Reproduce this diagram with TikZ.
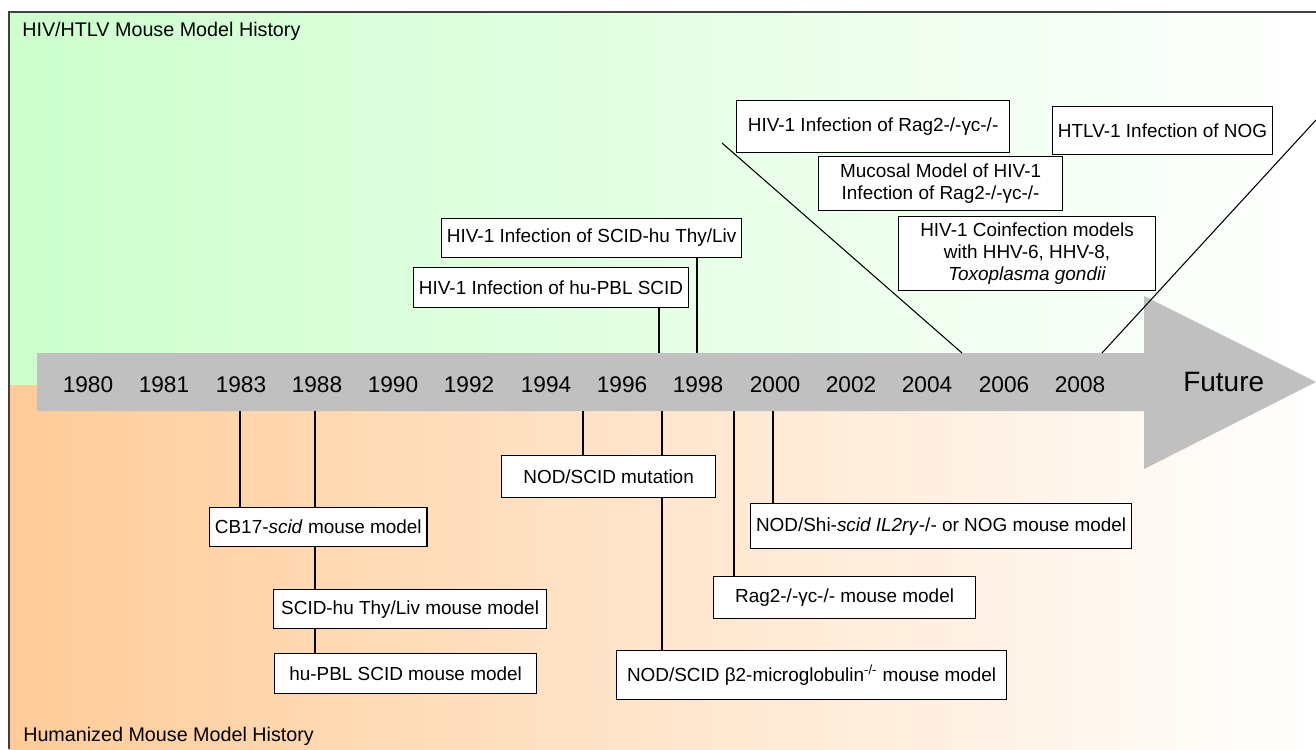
\documentclass[tikz,border=0pt]{standalone}
\usepackage{fontspec}
\setmainfont{Liberation Sans}
\definecolor{greenL}{RGB}{204,255,204}
\definecolor{orangeL}{RGB}{255,204,153}
\definecolor{arrowgray}{RGB}{192,192,192}
\definecolor{framegray}{RGB}{64,64,64}
\newcommand\boxfont{\fontsize{14.2}{16.5}\selectfont}
\newcommand\ttlfont{\fontsize{14.8}{17}\selectfont}
\newcommand\yearfont{\fontsize{17}{20}\selectfont}
\newcommand\futfont{\fontsize{21}{24}\selectfont}
\begin{document}
\begin{tikzpicture}[x=0.75pt,y=-0.75pt,
  bx/.style={draw=black, fill=white, line width=0.9pt, inner xsep=4pt, inner ysep=0pt,
             align=center, font=\boxfont, anchor=north west},
  conn/.style={draw=black, line width=0.8pt},
  yr/.style={font=\yearfont, anchor=base, inner sep=0pt},
  ttl/.style={font=\ttlfont, anchor=base west, inner sep=0pt}]
\useasboundingbox (0,0) rectangle (1316,749);
% backgrounds
\shade[left color=greenL, right color=white] (9,12) rectangle (1316,385);
\shade[left color=orangeL, right color=white] (9,385) rectangle (1316,749);
\draw[framegray, line width=1.2pt] (9,749) -- (9,12) -- (1316,12);
% titles
\node[ttl] (toptitle) at (22,36.5) {HIV/HTLV Mouse Model History};
\node[ttl] (bottitle) at (23,741) {Humanized Mouse Model History};
% timeline arrow
\fill[arrowgray] (37,353) -- (1144,353) -- (1144,296) -- (1316,382) -- (1144,469) -- (1144,411) -- (37,411) -- cycle;
\foreach \yy/\xx in {1980/88,1981/164,1983/241,1988/317,1990/393,1992/469,1994/546,1996/622,1998/698,2000/775,2002/851,2004/927,2006/1004,2008/1080}
  \node[yr] (y\yy) at (\xx,392) {\yy};
\node[font=\futfont, anchor=base west, inner sep=0pt] (future) at (1183,391) {Future};
% anchor points on the arrow
\coordinate (a659) at (659,353);
\coordinate (a697) at (697,353);
\coordinate (a962) at (962,353);
\coordinate (a1102) at (1102,353);
\coordinate (b240) at (240,411);
\coordinate (b315) at (315,411);
\coordinate (b583) at (583,411);
\coordinate (b662) at (662,411);
\coordinate (b734) at (734,411);
\coordinate (b773) at (773,411);
\coordinate (l1top) at (722,143);
\coordinate (l2top) at (1316,120);
% upper boxes
\node[bx, minimum width=222pt, minimum height=29.25pt] (thyliv) at (441,218) {HIV-1 Infection of SCID-hu Thy/Liv};
\node[bx, minimum width=204.75pt, minimum height=30pt] (hupblinf) at (413,267) {HIV-1 Infection of hu-PBL SCID};
\node[bx, minimum width=204.75pt, minimum height=39pt] (rag2inf) at (736,100) {HIV-1 Infection of Rag2-/-γc-/-};
\node[bx, minimum width=150pt, minimum height=36pt] (htlv) at (1052,106) {HTLV-1 Infection of NOG};
\node[bx, minimum width=183pt, minimum height=40.5pt] (mucosal) at (818,156) {Mucosal Model of HIV-1\\Infection of Rag2-/-γc-/-};
\node[bx, minimum width=192.75pt, minimum height=55.5pt] (coinf) at (898,216) {HIV-1 Coinfection models\\with HHV-6, HHV-8,\\\textit{Toxoplasma gondii}};
% lower boxes
\node[bx, minimum width=160.5pt, minimum height=29.25pt] (cb17) at (209,507) {CB17-\textit{scid} mouse model};
\node[bx, minimum width=204.75pt, minimum height=29.25pt] (scidhu) at (273,589) {SCID-hu Thy/Liv mouse model};
\node[bx, minimum width=196.5pt, minimum height=30pt] (hupbl) at (274,653) {hu-PBL SCID mouse model};
\node[bx, minimum width=160.5pt, minimum height=31.5pt] (nodmut) at (501,455) {NOD/SCID mutation};
\node[bx, minimum width=285.75pt, minimum height=33.75pt] (nodshi) at (750,503) {NOD/Shi-\textit{scid IL2rγ}-/- or NOG mouse model};
\node[bx, minimum width=196.5pt, minimum height=31.5pt] (rag2m) at (713,576) {Rag2-/-γc-/- mouse model};
\node[bx, minimum width=292.5pt, minimum height=36.75pt] (b2) at (616,650) {NOD/SCID β2-microglobulin\textsuperscript{-/-} mouse model};
% connectors
\draw[conn] (hupblinf.south -| a659) -- (a659);
\draw[conn] (thyliv.south -| a697) -- (a697);
\draw[conn] (l1top) -- (a962);
\draw[conn] (a1102) -- (l2top);
\draw[conn] (b240) -- (cb17.north -| b240);
\draw[conn] (b315) -- (cb17.north -| b315);
\draw[conn] (cb17.south -| b315) -- (scidhu.north -| b315);
\draw[conn] (scidhu.south -| b315) -- (hupbl.north -| b315);
\draw[conn] (b583) -- (nodmut.north -| b583);
\draw[conn] (b662) -- (nodmut.north -| b662);
\draw[conn] (nodmut.south -| b662) -- (b2.north -| b662);
\draw[conn] (b734) -- (rag2m.north -| b734);
\draw[conn] (b773) -- (nodshi.north -| b773);
\end{tikzpicture}
\end{document}
